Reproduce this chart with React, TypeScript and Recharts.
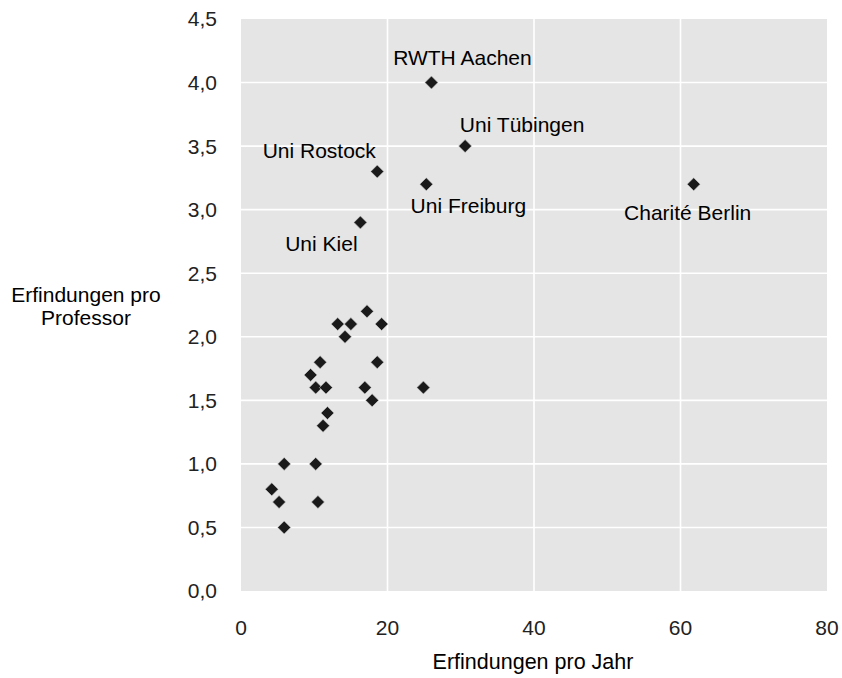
import React from 'react';
import { ScatterChart, Scatter, XAxis, YAxis, CartesianGrid } from 'recharts';

// Hochschulen (nur die benannten Punkte haben einen Namen)
const names = [
  'RWTH Aachen', 'Uni Tübingen', 'Uni Rostock', 'Uni Freiburg', 'Charité Berlin', 'Uni Kiel',
  '', '', '', '', '', '', '', '', '', '', '', '', '', '', '', '', '', '', '', '', '',
];
const perYear = [
  26, 30.6, 18.6, 25.3, 61.8, 16.3,
  17.2, 13.2, 15.0, 19.2, 14.2, 10.8, 18.6, 9.5, 10.2, 11.6, 16.9, 24.9, 17.9, 11.8,
  11.2, 5.9, 10.2, 4.2, 5.2, 10.5, 5.9,
];
const perProfessor = [
  4.0, 3.5, 3.3, 3.2, 3.2, 2.9,
  2.2, 2.1, 2.1, 2.1, 2.0, 1.8, 1.8, 1.7, 1.6, 1.6, 1.6, 1.6, 1.5, 1.4,
  1.3, 1.0, 1.0, 0.8, 0.7, 0.7, 0.5,
];
const xTicks = [0, 20, 40, 60, 80];
const yTicks = [0, 0.5, 1, 1.5, 2, 2.5, 3, 3.5, 4, 4.5];

const data = names.map((name, i) => ({ name, x: perYear[i], y: perProfessor[i] }));

// Pixelversatz der Beschriftungen (Textmitte relativ zum Punkt)
const labelOffsets: Record<string, [number, number]> = {
  'RWTH Aachen': [31, -25],
  'Uni Tübingen': [57, -22],
  'Uni Rostock': [-58, -21],
  'Uni Freiburg': [42, 21],
  'Charité Berlin': [-6, 28],
  'Uni Kiel': [-39, 21],
};

const font = '"Liberation Sans", Arial, Helvetica, sans-serif';
const fmt = (v: number) => v.toFixed(1).replace('.', ',');

const Diamond = (props: any) => {
  const { cx, cy, payload } = props;
  const r = 6.5;
  const off = labelOffsets[payload.name];
  return (
    <g>
      <polygon
        points={`${cx},${cy - r} ${cx + r},${cy} ${cx},${cy + r} ${cx - r},${cy}`}
        fill="#1a1a1a"
        stroke="#d0d0d0"
        strokeWidth={0.6}
      />
      {off && (
        <text
          x={cx + off[0]}
          y={cy + off[1]}
          textAnchor="middle"
          dominantBaseline="central"
          fontSize={21}
          fontFamily={font}
          fill="#000"
        >
          {payload.name}
        </text>
      )}
    </g>
  );
};

const YTitle = () => (
  <text x={85} textAnchor="middle" fontSize={21} fontFamily={font} fill="#000">
    <tspan x={86} y={302}>Erfindungen pro</tspan>
    <tspan x={86} y={325}>Professor</tspan>
  </text>
);

const XTitle = () => (
  <text x={533} y={669} textAnchor="middle" fontSize={21.5} fontFamily={font} fill="#000">
    Erfindungen pro Jahr
  </text>
);

export default function App() {
  return (
    <div style={{ width: 842, height: 678 }}>
      <style>{`body{margin:0}`}</style>
      <ScatterChart width={842} height={678} margin={{ top: 19, right: 15, bottom: 0, left: 0 }}>
        <CartesianGrid
          fill="#e5e5e5"
          stroke="#ffffff"
          strokeWidth={1.6}
          verticalValues={[20, 40, 60]}
          horizontalValues={[0.5, 1, 1.5, 2, 2.5, 3, 3.5, 4]}
        />
        <XAxis
          type="number"
          dataKey="x"
          domain={[0, 80]}
          ticks={xTicks}
          height={87}
          axisLine={false}
          tickLine={false}
          tickSize={0}
          tickMargin={29}
          tick={{ fontSize: 21, fontFamily: font, fill: '#222' }}
          label={{ content: () => <XTitle /> }}
        />
        <YAxis
          type="number"
          dataKey="y"
          domain={[0, 4.5]}
          ticks={yTicks}
          width={241}
          axisLine={false}
          tickLine={false}
          tickSize={0}
          tickMargin={24}
          tickFormatter={fmt}
          tick={{ fontSize: 21, fontFamily: font, fill: '#222' }}
          label={{ content: () => <YTitle /> }}
        />
        <Scatter data={data} shape={Diamond} isAnimationActive={false} />
      </ScatterChart>
    </div>
  );
}
